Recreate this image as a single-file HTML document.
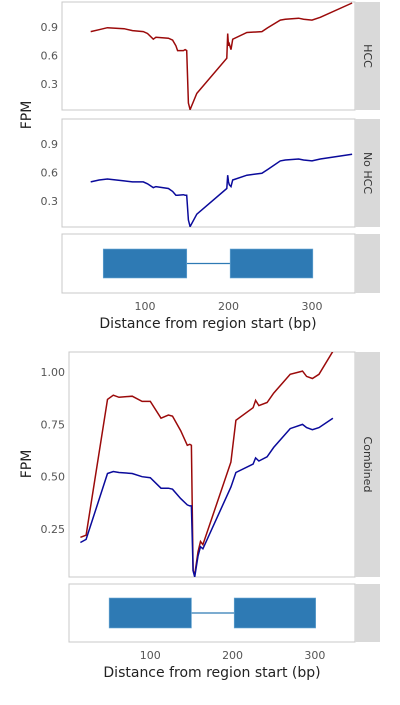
<!DOCTYPE html>
<html><head><meta charset="utf-8"><style>
body{margin:0;background:#fff;font-family:"Liberation Sans","DejaVu Sans",sans-serif}
svg text{font-family:"DejaVu Sans","Liberation Sans",sans-serif}
</style></head><body>
<svg id="c" width="400" height="700" xmlns="http://www.w3.org/2000/svg"></svg>
<script>
const topX=[35,45,55,75,85,98,103,110,113,128,133,137,139,146,148,150,152,154,162,198,199,200,201,203,205,222,240,247,262,268,284,290,300,310,348];
const topHCC=[.85,.87,.89,.88,.86,.85,.83,.77,.79,.78,.76,.70,.65,.65,.66,.65,.10,.03,.20,.57,.83,.70,.72,.66,.77,.84,.85,.89,.97,.98,.99,.98,.97,1.00,1.15];
const topNoHCC=[.50,.52,.53,.51,.50,.50,.48,.44,.45,.43,.40,.36,.36,.365,.36,.36,.10,.03,.16,.43,.57,.50,.47,.45,.52,.57,.59,.63,.72,.73,.74,.73,.72,.74,.79];
const combX=[15,22,48,55,62,78,90,100,113,122,127,137,145,148,150,152,154,158,161,164,198,204,225,228,232,242,250,270,285,290,297,305,322];
const combHCC=[.21,.22,.87,.89,.88,.885,.86,.86,.78,.795,.79,.72,.65,.655,.65,.05,.03,.14,.19,.175,.57,.77,.83,.865,.84,.855,.90,.99,1.005,.98,.97,.99,1.10];
const combNoHCC=[.185,.20,.515,.525,.52,.515,.50,.495,.445,.445,.44,.395,.365,.36,.36,.05,.02,.12,.165,.155,.45,.52,.56,.59,.575,.595,.64,.73,.75,.735,.725,.735,.78];
const exons=[[50,150],[202,301]];
const topYTicks=[0.3,0.6,0.9];
const combYTicks=[0.25,0.50,0.75,1.00];
const xTicks=[100,200,300];

const svg=document.getElementById('c');const NS='http://www.w3.org/2000/svg';
function el(t,a,p){const e=document.createElementNS(NS,t);for(const k in a)e.setAttribute(k,a[k]);(p||svg).appendChild(e);return e;}
let clipId=0;
function panel(name,x0,x1,y0,y1,strip,stripLabel){
  const g=el('g',{});
  
  
  el('rect',{x:x0,y:y0,width:x1-x0,height:y1-y0,fill:'#fff',stroke:'#c8c8c8','stroke-width':1},g);
  const s=el('rect',{x:x1,y:y0,width:strip,height:y1-y0,fill:'#d9d9d9'},g);
  
  
  if(stripLabel){const cx=x1+strip/2,cy=(y0+y1)/2;
    const t=el('text',{x:cx,y:cy,'font-size':11,fill:'#333','text-anchor':'middle','dominant-baseline':'central',transform:`rotate(90 ${cx} ${cy})`},g);t.textContent=stripLabel;
    
    }
  const id='cl'+(clipId++);const cp=el('clipPath',{id},g);el('rect',{x:x0,y:y0,width:x1-x0,height:y1-y0},cp);
  return {g,id};
}
function line(p,xs,ys,sx,sy,color,name){
  const d=xs.map((x,i)=>(i?'L':'M')+sx(x).toFixed(1)+' '+sy(ys[i]).toFixed(1)).join(' ');
  const e=el('path',{d,fill:'none',stroke:color,'stroke-width':1.5,'clip-path':`url(#${p.id})`},p.g);
  
  
}
function yTicks(ticks,sy,x0,dec,name){ticks.forEach(v=>{const t=el('text',{x:x0-4,y:sy(v)+4,'font-size':11,fill:'#555','text-anchor':'end'});t.textContent=v.toFixed(dec);
  
  });}
function xAxis(sx,y,name){xTicks.forEach(v=>{const t=el('text',{x:sx(v),y:y,'font-size':11,fill:'#555','text-anchor':'middle'});t.textContent=v;
  
  });}
function gene(p,sx,yt,yb,name){const ym=(yt+yb)/2;
  const l=el('line',{x1:sx(exons[0][1]),x2:sx(exons[1][0]),y1:ym,y2:ym,stroke:'#2e7ab4','stroke-width':1.2},p.g);
  
  
  exons.forEach((e,i)=>{const r=el('rect',{x:sx(e[0]),y:yt,width:sx(e[1])-sx(e[0]),height:yb-yt,fill:'#2e7ab4',stroke:'#6aa8d4','stroke-width':0.6},p.g);
    
    });}
function text(s,x,y,size,name,rot){const a={x,y,'font-size':size,fill:'#222','text-anchor':'middle'};if(rot)a.transform=`rotate(-90 ${x} ${y})`;const t=el('text',a);t.textContent=s;
  
  }

// top chart
const sxT=v=>62+(v-0.6)*(293/350.9);
const syA=v=>110-(v-0.026)*95.2;
const syB=v=>227-(v-0.026)*95.2;
const pA=panel('hcc-panel',62,355,2,110,25,'HCC');
line(pA,topX,topHCC,sxT,syA,'#9b0a0a','hcc-line');
const pB=panel('no-hcc-panel',62,355,119,227,25,'No HCC');
line(pB,topX,topNoHCC,sxT,syB,'#0a0a9b','no-hcc-line');
const pG=panel('gene-panel-top',62,355,234,293,25,'');
gene(pG,sxT,249,278,'gene-top');
yTicks(topYTicks,syA,62,1,'hcc-y-tick');
yTicks(topYTicks,syB,62,1,'no-hcc-y-tick');
xAxis(sxT,310,'x-tick-top');
text('FPM',31,115,14,'y-axis-title-top',true);
text('Distance from region start (bp)',208,328,14,'x-axis-title-top');

// bottom chart
const sxB=v=>69+(v-1.2)*(286/347.6);
const syC=v=>577-(v-0.02)*209;
const pC=panel('combined-panel',69,355,352,577,25,'Combined');
line(pC,combX,combHCC,sxB,syC,'#9b0a0a','combined-hcc-line');
line(pC,combX,combNoHCC,sxB,syC,'#0a0a9b','combined-no-hcc-line');
const pH=panel('gene-panel-bottom',69,355,584,642,25,'');
gene(pH,sxB,598,628,'gene-bottom');
yTicks(combYTicks,syC,69,2,'combined-y-tick');
xAxis(sxB,659,'x-tick-bottom');
text('FPM',31,464,14,'y-axis-title-bottom',true);
text('Distance from region start (bp)',212,677,14,'x-axis-title-bottom');
</script>
</body></html>
